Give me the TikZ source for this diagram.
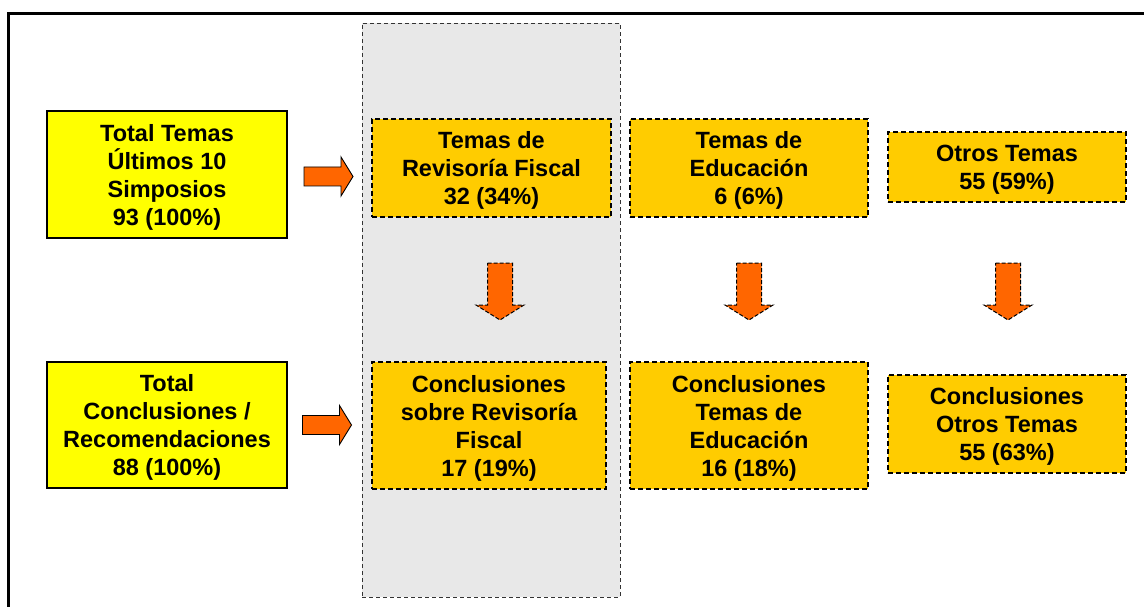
\documentclass[tikz,border=0pt]{standalone}
\usepackage{fontspec}
\setmainfont{Liberation Sans}
\definecolor{ybox}{HTML}{FFFF00}
\definecolor{obox}{HTML}{FFCC00}
\definecolor{arr}{HTML}{FF6600}
\definecolor{panel}{HTML}{E8E8E8}
\tikzset{
  lbl/.style={font=\fontsize{23.5}{28}\selectfont\bfseries, align=center, inner sep=0pt, text depth=-2pt},
  yellowbox/.style={lbl, draw=black, fill=ybox, line width=1.3pt},
  orangebox/.style={lbl, draw=black, fill=obox, line width=1.2pt, dash pattern=on 5pt off 3pt},
  rarr/.pic={\draw[fill=arr, line width=0.9pt, line join=miter]
     (-24.5,-9.5) -- (12.5,-9.5) -- (12.5,-19.5) -- (24.5,0) -- (12.5,19.5) -- (12.5,9.5) -- (-24.5,9.5) -- cycle;},
  darr/.pic={\draw[fill=arr, line width=1pt, dash pattern=on 4pt off 2pt]
     (-12.5,-28.5) -- (12.5,-28.5) -- (12.5,13.5) -- (24,13.5) -- (0,28.5) -- (-24,13.5) -- (-12.5,13.5) -- cycle;}
}
\begin{document}
\begin{tikzpicture}[x=1pt, y=-1pt]
\useasboundingbox (0,0) rectangle (1144,607);
% outer frame (cut by page edges)
\draw[line width=2.5pt] (8.7,620) -- (8.7,13.3) -- (1160,13.3);
% grey panel
\node[draw=black!80, fill=panel, line width=0.9pt, dash pattern=on 4pt off 3pt,
      minimum width=258pt, minimum height=574pt, inner sep=0pt] (panel) at (491,310) {};
% left boxes
\node[yellowbox, minimum width=240pt, minimum height=127pt] (tot1) at (167,174.5)
  {Total Temas\\Últimos 10\\Simposios\\93 (100\%)};
\node[yellowbox, minimum width=240pt, minimum height=126pt] (tot2) at (167,425)
  {Total\\Conclusiones /\\Recomendaciones\\88 (100\%)};
% top row
\node[orangebox, minimum width=239pt, minimum height=98pt] (rf1) at (491.5,168)
  {Temas de\\Revisoría Fiscal\\32 (34\%)};
\node[orangebox, minimum width=238pt, minimum height=98pt] (ed1) at (749,168)
  {Temas de\\Educación\\6 (6\%)};
\node[orangebox, minimum width=238pt, minimum height=70pt] (ot1) at (1007,167)
  {Otros Temas\\55 (59\%)};
% bottom row
\node[orangebox, minimum width=234pt, minimum height=127pt] (rf2) at (489,425.5)
  {Conclusiones\\sobre Revisoría\\Fiscal\\17 (19\%)};
\node[orangebox, minimum width=238pt, minimum height=127pt] (ed2) at (749,425.5)
  {Conclusiones\\Temas de\\Educación\\16 (18\%)};
\node[orangebox, minimum width=238pt, minimum height=98pt] (ot2) at (1007,424)
  {Conclusiones\\Otros Temas\\55 (63\%)};
% arrows
\pic at (328.5,176.5) {rarr};
\pic at (327,425) {rarr};
\pic at (500,291.5) {darr};
\pic at (749,291.5) {darr};
\pic at (1008,291.5) {darr};
\end{tikzpicture}
\end{document}
